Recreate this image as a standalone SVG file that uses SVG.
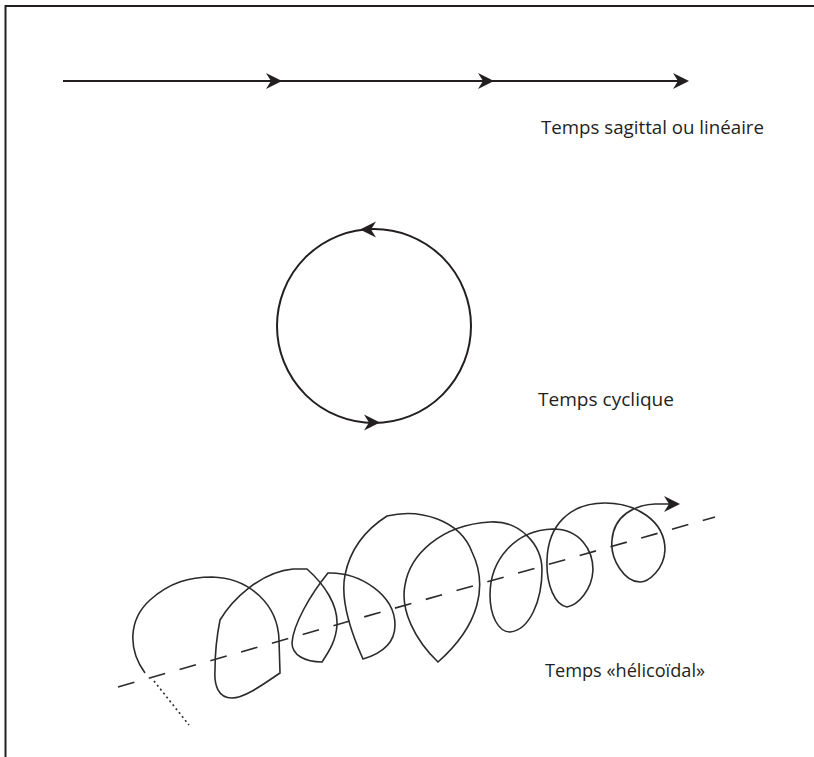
<svg xmlns="http://www.w3.org/2000/svg" width="814" height="757" viewBox="0 0 814 757">
<style>
.ln{fill:none;stroke:#231f20;stroke-width:2}
.hx{fill:none;stroke:#2b2b2b;stroke-width:1.6;stroke-linejoin:miter}
.ah{fill:#231f20;stroke:none}
.lbl{font-family:"Open Sans","Noto Sans",sans-serif;font-size:19px;fill:#231f20}
</style>
<defs>
<path id="head" d="M0,0 L-16,-8 L-11,0 L-16,8 Z"/>
</defs>
<rect width="814" height="757" fill="#fff"/>
<g id="frame">
<path class="ln" d="M5.5,757 L5.5,6 L814,6"/>
</g>
<g id="connectors">
<g id="linear">
<line class="ln" x1="63" y1="81" x2="684" y2="81"/>
<use href="#head" class="ah" transform="translate(282,81)"/>
<use href="#head" class="ah" transform="translate(494,81)"/>
<use href="#head" class="ah" transform="translate(689,81)"/>
</g>
<g id="cyclic">
<circle class="ln" cx="374" cy="326" r="97"/>
<use href="#head" class="ah" transform="translate(360,229.5) rotate(180)"/>
<use href="#head" class="ah" transform="translate(380,422.5)"/>
</g>
<g id="helix">
<line x1="118" y1="687" x2="715" y2="517" fill="none" stroke="#2b2b2b" stroke-width="1.6" stroke-dasharray="17 15"/>
<line x1="154" y1="681" x2="189" y2="725" fill="none" stroke="#2b2b2b" stroke-width="1.6" stroke-dasharray="2 3"/>
<path class="hx" d="M145,673 C128,650 128,620 150,600 C170,582 190,577 212,577 C250,578 278,605 279,640 L280,673
C265,683 245,698 232,698 C218,698 214,685 215,670 C215,650 217,635 220,620
C232,600 260,572 293,569 L307,569
C325,585 338,605 337,625 C336,640 330,650 322,662
C305,662 292,655 292,643 C293,625 310,595 328,573
C360,572 395,595 395,625 C395,645 380,654 363,659
C350,630 340,600 345,575 C350,550 365,530 387,516
C420,508 460,520 472,552 C488,585 480,625 438,662
C415,640 400,610 405,585 C410,555 440,525 490,522 C520,520 542,545 542,570 C542,600 530,630 510,632
C498,632 490,615 490,595 C490,560 515,530 553,529 C580,529 593,550 593,570 C592,590 578,605 567,607
C555,605 546,585 547,560 C548,525 570,503 605,503 C635,503 665,520 665,550 C664,570 648,582 640,582
C625,582 610,560 612,540 C614,515 635,505 655,504 L670,504"/>
<use href="#head" class="ah" transform="translate(680,504)"/>
</g>
</g>
<g id="labels">
<text class="lbl" x="541" y="134" textLength="223" lengthAdjust="spacingAndGlyphs">Temps sagittal ou linéaire</text>
<text class="lbl" x="538" y="406" textLength="136" lengthAdjust="spacingAndGlyphs">Temps cyclique</text>
<text class="lbl" x="545" y="677" textLength="160" lengthAdjust="spacingAndGlyphs">Temps «hélicoïdal»</text>
</g>
</svg>
